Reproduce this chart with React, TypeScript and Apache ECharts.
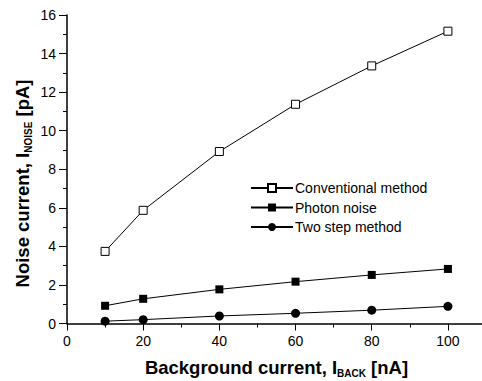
import React, { useEffect, useRef } from "react";
import * as echarts from "echarts";

const xValues = [10, 20, 40, 60, 80, 100];
const conventional = [3.74, 5.87, 8.92, 11.37, 13.36, 15.16];
const photon = [0.92, 1.28, 1.77, 2.17, 2.52, 2.83];
const twoStep = [0.12, 0.2, 0.39, 0.53, 0.69, 0.89];
const seriesNames = ["Conventional method", "Photon noise", "Two step method"];

const FONT = 'Arial, "Liberation Sans", Helvetica, sans-serif';

export default function App() {
  const ref = useRef<HTMLDivElement>(null);
  useEffect(() => {
    document.body.style.margin = "0";
    const chart = echarts.init(ref.current!, null, { renderer: "svg" });
    const pair = (ys: number[]) => xValues.map((x, i) => [x, ys[i]]);
    const lineBase = {
      type: "line" as const,
      lineStyle: { color: "#000", width: 1 },
      emphasis: { disabled: true },
    };
    chart.setOption({
      animation: false,
      backgroundColor: "#fff",
      textStyle: { fontFamily: FONT },
      grid: { left: 67, right: -4, top: 15, bottom: 57.5, containLabel: false, outerBoundsMode: "none" },
      legend: {
        orient: "vertical",
        left: 245,
        top: 176,
        itemWidth: 42,
        itemHeight: 10,
        itemGap: 5.5,
        textStyle: { fontSize: 14, color: "#000", fontFamily: FONT, padding: [0, 0, 0, -3] },
        data: seriesNames,
      },
      xAxis: {
        type: "value",
        min: 0,
        max: 110,
        interval: 20,
        axisLine: { lineStyle: { color: "#000", width: 1.5 } },
        axisTick: { length: 7, lineStyle: { color: "#000", width: 1 } },
        minorTick: { show: true, splitNumber: 2, length: 4, lineStyle: { color: "#000", width: 1 } },
        splitLine: { show: false },
        axisLabel: { fontSize: 14, color: "#000", margin: 10, showMaxLabel: false, fontFamily: FONT },
        name: "{a|Background current, I}{s|BACK}{a| [nA]}",
        nameLocation: "middle",
        nameGap: 33,
        nameTextStyle: {
          rich: {
            a: { fontSize: 18.5, fontWeight: "bold", color: "#000", lineHeight: 22, fontFamily: FONT },
            s: { fontSize: 10, fontWeight: "bold", color: "#000", lineHeight: 10, verticalAlign: "bottom", fontFamily: FONT },
          },
        },
      },
      yAxis: {
        type: "value",
        min: 0,
        max: 16,
        interval: 2,
        axisLine: { show: true, lineStyle: { color: "#000", width: 1.5 } },
        axisTick: { show: true, length: 8, lineStyle: { color: "#000", width: 1 } },
        minorTick: { show: true, splitNumber: 2, length: 4, lineStyle: { color: "#000", width: 1 } },
        splitLine: { show: false },
        axisLabel: { fontSize: 14, color: "#000", margin: 11, fontFamily: FONT },
      },
      graphic: [
        {
          type: "text",
          x: 22,
          y: 183.5,
          rotation: Math.PI / 2,
          style: {
            text: "{a|Noise current, I}{s|NOISE}{a| [pA]}",
            align: "center",
            verticalAlign: "middle",
            rich: {
              a: { fontSize: 18.5, fontWeight: "bold", fill: "#000", lineHeight: 22, fontFamily: FONT },
              s: { fontSize: 10, fontWeight: "bold", fill: "#000", lineHeight: 10, verticalAlign: "bottom", fontFamily: FONT },
            },
          },
        },
      ],
      series: [
        {
          ...lineBase,
          name: seriesNames[0],
          data: pair(conventional),
          symbol: "rect",
          symbolSize: 8,
          itemStyle: { color: "#fff", borderColor: "#000", borderWidth: 1 },
        },
        {
          ...lineBase,
          name: seriesNames[1],
          data: pair(photon),
          symbol: "rect",
          symbolSize: 8,
          itemStyle: { color: "#000", borderColor: "#000", borderWidth: 0 },
        },
        {
          ...lineBase,
          name: seriesNames[2],
          data: pair(twoStep),
          symbol: "circle",
          symbolSize: 9,
          itemStyle: { color: "#000", borderColor: "#000", borderWidth: 0 },
        },
      ],
    });
    return () => chart.dispose();
  }, []);
  return <div ref={ref} style={{ width: 482, height: 381 }} />;
}
